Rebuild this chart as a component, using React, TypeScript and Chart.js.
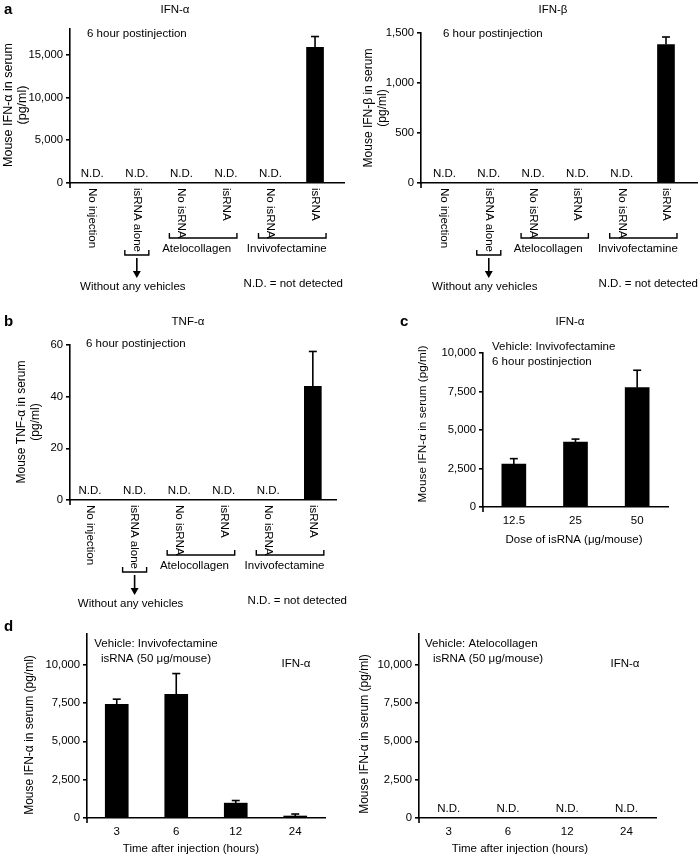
import React, { useEffect, useRef } from "react";
import { Chart, registerables } from "chart.js";

Chart.register(...registerables);

// ---------- data ----------
const groupLabels = ["No injection", "isRNA alone", "No isRNA", "isRNA", "No isRNA", "isRNA"];

const ifnAlphaMean: (number | null)[] = [null, null, null, null, null, 15850];
const ifnAlphaErr: (number | null)[] = [null, null, null, null, null, 1270];
const ifnAlphaTicks = [0, 5000, 10000, 15000];

const ifnBetaMean: (number | null)[] = [null, null, null, null, null, 1385];
const ifnBetaErr: (number | null)[] = [null, null, null, null, null, 75];
const ifnBetaTicks = [0, 500, 1000, 1500];

const tnfMean: (number | null)[] = [null, null, null, null, null, 44];
const tnfErr: (number | null)[] = [null, null, null, null, null, 13.5];
const tnfTicks = [0, 20, 40, 60];

const doseLabels = ["12.5", "25", "50"];
const doseMean: (number | null)[] = [2790, 4210, 7750];
const doseErr: (number | null)[] = [350, 200, 1130];
const doseTicks = [0, 2500, 5000, 7500, 10000];

const timeLabels = ["3", "6", "12", "24"];
const invivoMean: (number | null)[] = [7420, 8070, 970, 130];
const invivoErr: (number | null)[] = [330, 1350, 170, 130];
const atelloMean: (number | null)[] = [null, null, null, null];
const atelloErr: (number | null)[] = [null, null, null, null];
const timeTicks = [0, 2500, 5000, 7500, 10000];

// ---------- style ----------
const FAMILY = '"Liberation Sans", Arial, Helvetica, sans-serif';
const FS = 11.5;
const TICK_FS = 11.3;
const YT_FS = 12;
const AXIS_W = 1.6;
const f = (size = FS, weight = "normal") => `${weight} ${size}px ${FAMILY}`;

function fmt(v: number) {
  return String(v).replace(/\B(?=(\d{3})+(?!\d))/g, ",");
}

type Helpers = {
  cx: (i: number) => number;
  py: (v: number) => number;
  base: number;
  left: number;
};

type Spec = {
  box: { left: number; top: number; width: number; height: number };
  area: { left: number; top: number; right: number; bottom: number };
  labels: string[];
  mean: (number | null)[];
  err: (number | null)[];
  yMax: number;
  yTicks: number[];
  xRange?: { min: number; max: number };
  barThickness: number;
  decorate: (ctx: CanvasRenderingContext2D, h: Helpers) => void;
};

function text(
  ctx: CanvasRenderingContext2D,
  s: string,
  x: number,
  y: number,
  align: CanvasTextAlign = "center",
  font = f(),
  baseline: CanvasTextBaseline = "middle"
) {
  ctx.font = font;
  ctx.fillStyle = "#000";
  ctx.textAlign = align;
  ctx.textBaseline = baseline;
  ctx.fillText(s, x, y);
}

function rtext(
  ctx: CanvasRenderingContext2D,
  s: string,
  x: number,
  y: number,
  angle: number,
  align: CanvasTextAlign,
  font = f()
) {
  ctx.save();
  ctx.translate(x, y);
  ctx.rotate(angle);
  text(ctx, s, 0, 0, align, font);
  ctx.restore();
}

function line(ctx: CanvasRenderingContext2D, pts: number[][], w = 1.3) {
  ctx.beginPath();
  ctx.strokeStyle = "#000";
  ctx.lineWidth = w;
  pts.forEach((p, i) => (i === 0 ? ctx.moveTo(p[0], p[1]) : ctx.lineTo(p[0], p[1])));
  ctx.stroke();
}

function bracket(ctx: CanvasRenderingContext2D, x1: number, x2: number, y: number) {
  line(ctx, [[x1, y - 5], [x1, y], [x2, y], [x2, y - 5]], 1.4);
}

function arrow(ctx: CanvasRenderingContext2D, x: number, y1: number, y2: number) {
  line(ctx, [[x, y1], [x, y2 - 5]], 1.6);
  ctx.beginPath();
  ctx.fillStyle = "#000";
  ctx.moveTo(x - 4, y2 - 7);
  ctx.lineTo(x + 4, y2 - 7);
  ctx.lineTo(x, y2);
  ctx.closePath();
  ctx.fill();
}

function groupDecor(ctx: CanvasRenderingContext2D, h: Helpers, noteRight: number) {
  const { cx, base } = h;
  groupLabels.forEach((s, i) => rtext(ctx, s, cx(i), base + 5, Math.PI / 2, "left"));
  const a = cx(1);
  bracket(ctx, a - 12, a + 12, base + 72);
  arrow(ctx, a, base + 75, base + 95);
  text(ctx, "Without any vehicles", a - 4, base + 104);
  bracket(ctx, cx(2) - 12, cx(3) + 11, base + 55);
  text(ctx, "Atelocollagen", (cx(2) + cx(3)) / 2 - 7, base + 66);
  bracket(ctx, cx(4) - 12, cx(5) + 11, base + 55);
  text(ctx, "Invivofectamine", (cx(4) + cx(5)) / 2 - 6, base + 66);
  text(ctx, "N.D. = not detected", noteRight, base + 101, "right");
}

function yTitle(ctx: CanvasRenderingContext2D, lines: string[], xs: number[], yc: number, size = YT_FS) {
  lines.forEach((s, i) => rtext(ctx, s, xs[i], yc, -Math.PI / 2, "center", f(size)));
}

function ChartPanel({ spec }: { spec: Spec }) {
  const ref = useRef<HTMLCanvasElement>(null);
  useEffect(() => {
    const { box, area } = spec;
    const linear = !!spec.xRange;
    const data: any = linear ? spec.mean.map((v, i) => ({ x: i, y: v })) : spec.mean;
    const chart = new Chart(ref.current as HTMLCanvasElement, {
      type: "bar",
      data: {
        labels: linear ? undefined : spec.labels,
        datasets: [
          {
            data,
            backgroundColor: "#000",
            borderWidth: 0,
            barThickness: spec.barThickness,
          },
        ],
      } as any,
      options: {
        responsive: false,
        animation: false,
        devicePixelRatio: 1,
        layout: {
          padding: {
            left: 0,
            top: area.top - box.top,
            right: box.left + box.width - area.right,
            bottom: box.top + box.height - area.bottom,
          },
        },
        plugins: {
          legend: { display: false },
          tooltip: { enabled: false },
          title: { display: false },
        },
        scales: {
          x: {
            type: linear ? "linear" : "category",
            ...(linear ? { min: spec.xRange!.min, max: spec.xRange!.max } : {}),
            offset: !linear,
            ticks: { display: false },
            grid: { display: false, drawTicks: false },
            border: { display: true, color: "#000", width: AXIS_W },
            afterFit: (s: any) => {
              s.height = 0;
            },
          } as any,
          y: {
            type: "linear",
            min: 0,
            max: spec.yMax,
            afterBuildTicks: (s: any) => {
              s.ticks = spec.yTicks.map((v) => ({ value: v }));
            },
            ticks: {
              callback: (v: any) => fmt(Number(v)),
              font: { family: FAMILY, size: TICK_FS },
              color: "#000",
              padding: 3,
            },
            grid: {
              display: true,
              drawOnChartArea: false,
              drawTicks: true,
              tickLength: 4,
              color: "#000",
              lineWidth: AXIS_W,
            },
            border: { display: true, color: "#000", width: AXIS_W },
            afterFit: (s: any) => {
              s.width = area.left - box.left;
            },
          } as any,
        },
      },
      plugins: [
        {
          id: "deco",
          afterDraw: (c: any) => {
            const ctx = c.ctx as CanvasRenderingContext2D;
            const xs = c.scales.x;
            const ys = c.scales.y;
            const ox = box.left;
            const oy = box.top;
            ctx.save();
            ctx.translate(-ox, -oy);
            const cx = (i: number) => xs.getPixelForValue(i) + ox;
            const py = (v: number) => ys.getPixelForValue(v) + oy;
            const base = py(0);
            const left = c.chartArea.left + ox;
            // axis stub below origin
            line(ctx, [[left, base], [left, base + 5]], AXIS_W);
            // error bars (upper only)
            spec.mean.forEach((m, i) => {
              const e = spec.err[i];
              if (m == null || e == null) return;
              const x = cx(i);
              line(ctx, [[x, py(m)], [x, py(m + e)]], 1.6);
              line(ctx, [[x - 4, py(m + e)], [x + 4, py(m + e)]], 1.6);
            });
            // not detected labels
            spec.mean.forEach((m, i) => {
              if (m == null) text(ctx, "N.D.", cx(i), base - 3, "center", f(), "bottom");
            });
            spec.decorate(ctx, { cx, py, base, left });
            ctx.restore();
          },
        },
      ],
    });
    return () => chart.destroy();
  }, []);
  return (
    <canvas
      ref={ref}
      width={spec.box.width}
      height={spec.box.height}
      style={{ position: "absolute", left: spec.box.left, top: spec.box.top, width: spec.box.width, height: spec.box.height }}
    />
  );
}

const specs: Spec[] = [
  {
    box: { left: 0, top: 0, width: 350, height: 300 },
    area: { left: 70, top: 29, right: 344, bottom: 183 },
    labels: groupLabels,
    mean: ifnAlphaMean,
    err: ifnAlphaErr,
    yMax: 18000,
    yTicks: ifnAlphaTicks,
    xRange: { min: -0.5, max: 5.65 },
    barThickness: 17,
    decorate: (ctx, h) => {
      text(ctx, "a", 4, 10, "left", f(15, "bold"));
      text(ctx, "IFN-α", 175, 10);
      text(ctx, "6 hour postinjection", 87, 34, "left");
      yTitle(ctx, ["Mouse IFN-α in serum", "(pg/ml)"], [9, 23], 105, 12.5);
      groupDecor(ctx, h, 343);
    },
  },
  {
    box: { left: 350, top: 0, width: 350, height: 300 },
    area: { left: 421, top: 33, right: 697, bottom: 183 },
    labels: groupLabels,
    mean: ifnBetaMean,
    err: ifnBetaErr,
    yMax: 1500,
    yTicks: ifnBetaTicks,
    xRange: { min: -0.53, max: 5.7 },
    barThickness: 17,
    decorate: (ctx, h) => {
      text(ctx, "IFN-β", 553, 10);
      text(ctx, "6 hour postinjection", 443, 34, "left");
      yTitle(ctx, ["Mouse IFN-β in serum", "(pg/ml)"], [369, 383], 108);
      groupDecor(ctx, h, 698);
    },
  },
  {
    box: { left: 0, top: 300, width: 350, height: 320 },
    area: { left: 70, top: 345, right: 336, bottom: 500 },
    labels: groupLabels,
    mean: tnfMean,
    err: tnfErr,
    yMax: 60,
    yTicks: tnfTicks,
    xRange: { min: -0.45, max: 5.52 },
    barThickness: 17,
    decorate: (ctx, h) => {
      text(ctx, "b", 4, 322, "left", f(15, "bold"));
      text(ctx, "TNF-α", 188, 322);
      text(ctx, "6 hour postinjection", 86, 344, "left");
      yTitle(ctx, ["Mouse TNF-α in serum", "(pg/ml)"], [22, 36], 422);
      groupDecor(ctx, h, 347);
    },
  },
  {
    box: { left: 350, top: 300, width: 350, height: 320 },
    area: { left: 483, top: 353, right: 668, bottom: 507 },
    labels: doseLabels,
    mean: doseMean,
    err: doseErr,
    yMax: 10000,
    yTicks: doseTicks,
    barThickness: 24,
    decorate: (ctx, h) => {
      text(ctx, "c", 400, 322, "left", f(15, "bold"));
      text(ctx, "IFN-α", 570, 322);
      text(ctx, "Vehicle: Invivofectamine", 492, 347, "left");
      text(ctx, "6 hour postinjection", 492, 362, "left");
      yTitle(ctx, ["Mouse IFN-α in serum (pg/ml)"], [423], 424, 11.8);
      doseLabels.forEach((s, i) => text(ctx, s, h.cx(i), h.base + 14));
      text(ctx, "Dose of isRNA (μg/mouse)", 574, 540);
    },
  },
  {
    box: { left: 0, top: 620, width: 350, height: 236 },
    area: { left: 87, top: 634, right: 325, bottom: 818 },
    labels: timeLabels,
    mean: invivoMean,
    err: invivoErr,
    yMax: 12000,
    yTicks: timeTicks,
    barThickness: 23,
    decorate: (ctx, h) => {
      text(ctx, "d", 4, 627, "left", f(15, "bold"));
      text(ctx, "Vehicle: Invivofectamine", 156, 644);
      text(ctx, "isRNA (50 μg/mouse)", 156, 659);
      text(ctx, "IFN-α", 296, 664);
      yTitle(ctx, ["Mouse IFN-α in serum (pg/ml)"], [30], 735);
      timeLabels.forEach((s, i) => text(ctx, s, h.cx(i), h.base + 14));
      text(ctx, "Time after injection (hours)", 191, 849);
    },
  },
  {
    box: { left: 350, top: 620, width: 350, height: 236 },
    area: { left: 419, top: 634, right: 656, bottom: 818 },
    labels: timeLabels,
    mean: atelloMean,
    err: atelloErr,
    yMax: 12000,
    yTicks: timeTicks,
    barThickness: 23,
    decorate: (ctx, h) => {
      text(ctx, "Vehicle: Atelocollagen", 425, 644, "left");
      text(ctx, "isRNA (50 μg/mouse)", 433, 659, "left");
      text(ctx, "IFN-α", 625, 664);
      yTitle(ctx, ["Mouse IFN-α in serum (pg/ml)"], [365], 734);
      timeLabels.forEach((s, i) => text(ctx, s, h.cx(i), h.base + 14));
      text(ctx, "Time after injection (hours)", 520, 849);
    },
  },
];

export default function App() {
  return (
    <div style={{ position: "absolute", left: 0, top: 0, width: 700, height: 856, background: "#fff" }}>
      {specs.map((s, i) => (
        <ChartPanel key={i} spec={s} />
      ))}
    </div>
  );
}
